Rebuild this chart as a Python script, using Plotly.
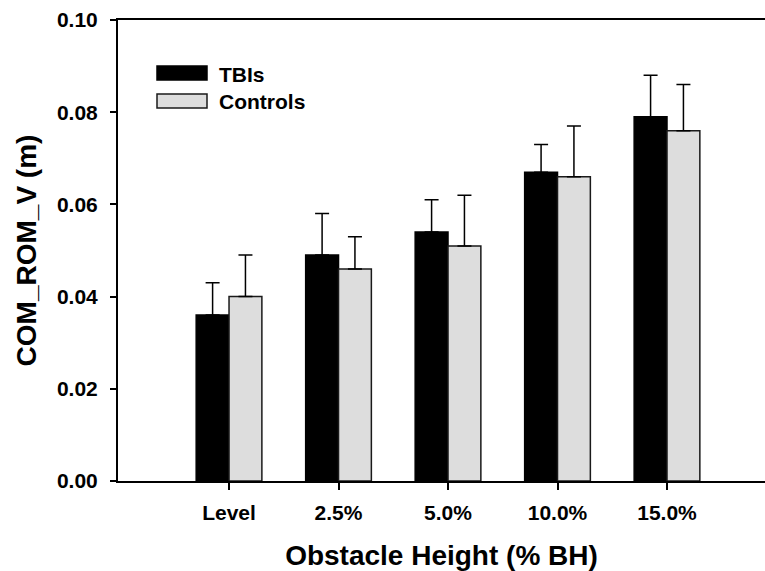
import plotly.graph_objects as go

categories = ["Level", "2.5%", "5.0%", "10.0%", "15.0%"]
tbi_values = [0.036, 0.049, 0.054, 0.067, 0.079]
tbi_errors = [0.007, 0.009, 0.007, 0.006, 0.009]
ctrl_values = [0.040, 0.046, 0.051, 0.066, 0.076]
ctrl_errors = [0.009, 0.007, 0.011, 0.011, 0.010]
series_names = ["TBIs", "Controls"]
y_ticks = [0.00, 0.02, 0.04, 0.06, 0.08, 0.10]

FONT = "Liberation Sans, Arial, sans-serif"
W, H = 765, 571
ML, MR, MT, MB = 118, 0, 20, 90
PW, PH = W - ML - MR, H - MT - MB

fig = go.Figure()
fig.add_trace(go.Bar(
    x=categories, y=tbi_values, name=series_names[0],
    marker=dict(color="#000000", line=dict(color="#000000", width=1.5)),
    error_y=dict(type="data", symmetric=False, array=tbi_errors,
                 arrayminus=[0] * len(tbi_errors), color="#000000",
                 thickness=1.5, width=7),
    showlegend=False,
))
fig.add_trace(go.Bar(
    x=categories, y=ctrl_values, name=series_names[1],
    marker=dict(color="#dddddd", line=dict(color="#1a1a1a", width=1.5)),
    error_y=dict(type="data", symmetric=False, array=ctrl_errors,
                 arrayminus=[0] * len(ctrl_errors), color="#000000",
                 thickness=1.5, width=7),
    showlegend=False,
))

# custom legend (large swatches)
def px_x(p):
    return (p - ML) / PW

def px_y(p):
    return (H - MB - p) / PH

legend_items = [(series_names[0], "#000000", "#000000", 66, 80, 74),
                (series_names[1], "#dddddd", "#1a1a1a", 94, 108, 101)]
for name, fill, line, y0, y1, yc in legend_items:
    fig.add_shape(type="rect", xref="paper", yref="paper",
                  x0=px_x(157), x1=px_x(207), y0=px_y(y1), y1=px_y(y0),
                  fillcolor=fill, line=dict(color=line, width=1.5))
    fig.add_annotation(xref="paper", yref="paper", x=px_x(217), y=px_y(yc),
                       text=name, showarrow=False, xanchor="left", yanchor="middle",
                       font=dict(family=FONT, size=21, color="#000000", weight="bold"))

fig.update_layout(
    width=W, height=H,
    margin=dict(l=ML, r=MR, t=MT, b=MB, pad=0),
    paper_bgcolor="white", plot_bgcolor="white",
    barmode="group", bargap=0.4, bargroupgap=0,
    font=dict(family=FONT, color="#000000"),
    xaxis=dict(
        type="category", categoryorder="array", categoryarray=categories,
        range=[-1.014, 4.895],
        showline=True, linecolor="#000000", linewidth=2, mirror=True,
        ticks="outside", ticklen=7, tickwidth=1.5, tickcolor="#000000",
        ticklabelstandoff=5,
        tickfont=dict(family=FONT, size=21, color="#000000", weight="bold"),
        showgrid=False, zeroline=False,
        title=dict(text="Obstacle Height (% BH)", standoff=22,
                   font=dict(family=FONT, size=28, color="#000000", weight="bold")),
    ),
    yaxis=dict(
        range=[0, 0.10], tickvals=y_ticks, tickformat=".2f",
        showline=True, linecolor="#000000", linewidth=2,
        ticks="outside", ticklen=6, tickwidth=1.5, tickcolor="#000000",
        ticklabelstandoff=8,
        tickfont=dict(family=FONT, size=21, color="#000000", weight="bold"),
        showgrid=False, zeroline=False,
        title=dict(text="COM_ROM_V (m)", standoff=12,
                   font=dict(family=FONT, size=28, color="#000000", weight="bold")),
    ),
)

fig.write_html("out.html")
